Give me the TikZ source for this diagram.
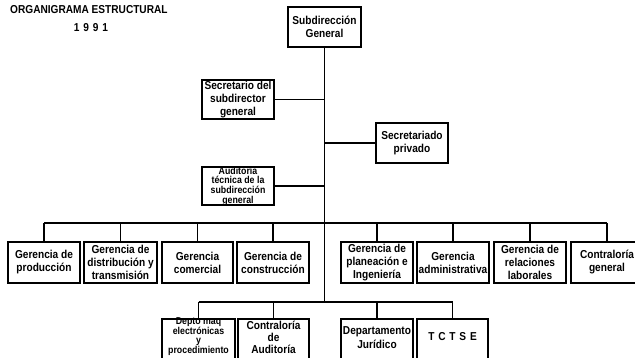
\documentclass[tikz,border=0pt]{standalone}
\usepackage{fontspec}
\setmainfont{Liberation Sans}[FakeStretch=0.88]
% stacked lines, lifted inside their box without changing the box size
\newcommand\liftedlines[2]{\raisebox{#1}[\height][\depth]{\begin{tabular}{@{}c@{}}#2\end{tabular}}}
\begin{document}
\begin{tikzpicture}[x=1pt,y=-1pt,
  unit/.style={draw, line width=1.4pt, align=center, inner sep=0pt,
    font=\bfseries\fontsize{11.5}{13}\selectfont},
  lowunit/.style={draw, line width=1.4pt, inner sep=0pt},
  wire/.style={line width=1.1pt}]
\useasboundingbox (0,0) rectangle (635,358);
\clip (0,0) rectangle (635,358);

% heading
\node[font=\bfseries\fontsize{11.5}{12}\selectfont, anchor=west, inner sep=0pt] (title) at (10,10) {ORGANIGRAMA ESTRUCTURAL};
\node[font=\bfseries\fontsize{11.5}{12}\selectfont, inner sep=0pt] (year) at (91,28) {1\,\,9\,\,9\,\,1};

% head and staff units
\node[unit, minimum width=73, minimum height=40] (sg) at (324.5,27) {Subdirección\\General};
\node[unit, minimum width=72, minimum height=39] (sec) at (238,99.5) {Secretario del\\subdirector\\general};
\node[unit, minimum width=72, minimum height=40] (priv) at (412,143) {Secretariado\\privado};
\node[unit, font=\bfseries\fontsize{10}{9.6}\selectfont, minimum width=72, minimum height=38] (aud) at (238,186)
      {Auditoría\\técnica de la\\subdirección\\general};

% first line of managements
\foreach \n/\cx/\w/\t in {
  p1/44/72/{Gerencia de\\producción},
  p2/120.5/73/{Gerencia de\\distribución y\\transmisión},
  p3/197.5/71/{Gerencia\\comercial},
  p4/273/72/{Gerencia de\\construcción},
  p5/377/72/{Gerencia de\\planeación e\\Ingeniería},
  p6/453/72/{Gerencia\\administrativa},
  p7/530/72/{Gerencia de\\relaciones\\laborales},
  p8/607/72/{Contraloría\\general}}
  \node[unit, minimum width=\w, minimum height=41] (\n) at (\cx,262.5) {\t};

% second line of departments (boxes run past the lower edge)
\node[lowunit, minimum width=73, minimum height=44,
      font=\bfseries\fontsize{10}{9.2}\selectfont] (d1) at (198.5,341)
      {\liftedlines{4pt}{Depto maq\\electrónicas\\y\\procedimiento}};
\node[lowunit, minimum width=71, minimum height=44,
      font=\bfseries\fontsize{11.5}{11.5}\selectfont] (d2) at (273.5,341)
      {\liftedlines{2pt}{Contraloría\\de\\Auditoría}};
\node[lowunit, minimum width=72, minimum height=44,
      font=\bfseries\fontsize{11.5}{14}\selectfont] (d3) at (377,341)
      {\liftedlines{2pt}{Departamento\\Jurídico}};
\node[lowunit, minimum width=71, minimum height=44,
      font=\bfseries\fontsize{11.5}{13}\selectfont] (d4) at (452.5,341)
      {\liftedlines{3pt}{T\,\,C\,\,T\,\,S\,\,E}};

% trunk and branching points
\coordinate (bar1) at (sg.south |- 0,223);
\coordinate (bar2) at (sg.south |- 0,302);
\draw[wire] (sg.south) -- (bar2);
\draw[wire] (sec.east) -- (sec.east -| sg.south);
\draw[wire] (priv.west) -- (priv.west -| sg.south);
\draw[wire] (aud.east) -- (aud.east -| sg.south);

\draw[wire] (p1.north |- bar1) -- (p8.north |- bar1);
\foreach \n in {p1,p2,p3,p4,p5,p6,p7,p8}
  \draw[wire] (\n.north |- bar1) -- (\n.north);

\draw[wire] (d1.north |- bar2) -- (d4.north |- bar2);
\foreach \n in {d1,d2,d3,d4}
  \draw[wire] (\n.north |- bar2) -- (\n.north);
\end{tikzpicture}
\end{document}
